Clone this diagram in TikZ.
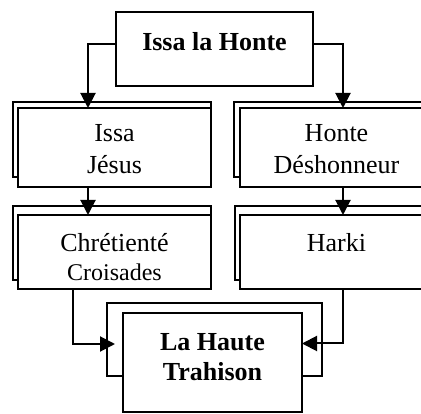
\documentclass[tikz,border=0pt]{standalone}
\usepackage{fontspec}
\setmainfont{Liberation Serif}
\usetikzlibrary{arrows.meta, positioning}

\begin{document}
\begin{tikzpicture}[
		x=1pt, y=-1pt,
		every node/.style={inner sep=0pt, outer sep=0pt},
		back/.style={draw, rectangle, line width=1.5pt, anchor=north west},
		front/.style={draw, rectangle, fill=white, line width=1.5pt, anchor=north west},
		txt/.style={align=center, font=\fontsize{26}{32}\selectfont},
		bld/.style={align=center, font=\fontsize{26}{30}\selectfont\bfseries},
		->, >={Triangle[length=15pt,width=15pt]}, line width=2pt, black
		]
		\clip (0,0) rectangle (421,414);
		% Title box
		\node[front, line width=2.7pt, minimum width=197pt, minimum height=74pt] (honte) at (116,12) {};
		\node[bld, anchor=base] (honteT) at ([yshift=-38.8pt]honte.north) {Issa la Honte};
		% First row
		\node[back, minimum width=198pt, minimum height=75pt] (issaB) at (13,102) {};
		\node[front, minimum width=193pt, minimum height=79pt] (issa) at (18,108) {};
		\node[txt] (issaT) at ([yshift=-41pt]issa.north) {Issa\\Jésus};
		\node[back, minimum width=199pt, minimum height=75pt] (deshB) at (234,102) {};
		\node[front, minimum width=193pt, minimum height=79pt] (desh) at (240,108) {};
		\node[txt] (deshT) at ([yshift=-41pt]desh.north) {Honte\\Déshonneur};
		% Second row
		\node[back, minimum width=198pt, minimum height=74pt] (chretB) at (13,206) {};
		\node[front, minimum width=193pt, minimum height=74pt] (chret) at (18,215) {};
		\node[txt, font=\fontsize{26}{28.4}\selectfont] (chretT) at ([yshift=-42pt]chret.north) {Chrétienté\\{\fontsize{24}{28.4}\selectfont Croisades}};
		\node[back, minimum width=198pt, minimum height=74pt] (harkiB) at (235,206) {};
		\node[front, minimum width=193pt, minimum height=74pt] (harki) at (240,215) {};
		\node[txt, anchor=base] (harkiT) at ([yshift=-36.6pt]harki.north) {Harki};
		% Final box
		\node[back, minimum width=215pt, minimum height=73pt] (trahB) at (107,303) {};
		\node[front, minimum width=179pt, minimum height=99pt] (trah) at (123,313) {};
		\node[bld] (trahT) at ([yshift=-44pt]trah.north) {La Haute\\Trahison};
		
		% Arrows
		\draw ([yshift=5pt]honte.west) -| ([xshift=-26.5pt]issa.north);
		\draw ([yshift=5pt]honte.east) -| ([xshift=6.5pt]desh.north);
		\draw ([xshift=-26.5pt]issa.south) -- ([xshift=-26.5pt]chret.north);
		\draw ([xshift=6.5pt]desh.south) -- ([xshift=6.5pt]harki.north);
		\draw[shorten >=8pt] ([xshift=-41.5pt]chret.south) |- ([yshift=18.5pt]trah.west);
		\draw ([xshift=6pt]harki.south) |- ([yshift=19pt]trah.east);
	\end{tikzpicture}
\end{document}
